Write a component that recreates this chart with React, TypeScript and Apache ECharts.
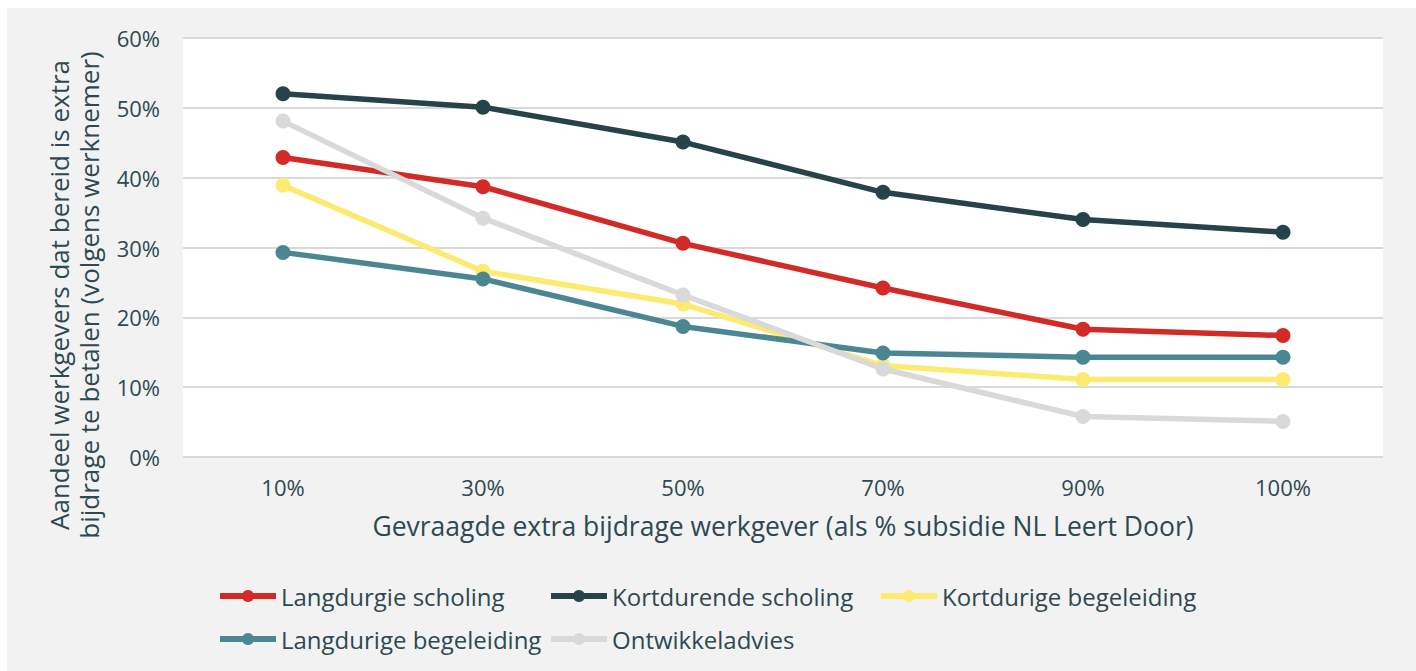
import React, { useEffect, useRef } from "react";
import * as echarts from "echarts";

const categories = ["10%", "30%", "50%", "70%", "90%", "100%"];
const langdurigeScholing = [42.9, 38.7, 30.6, 24.2, 18.3, 17.4];
const kortdurendeScholing = [52.0, 50.1, 45.1, 37.9, 34.0, 32.2];
const kortdurigeBegeleiding = [38.9, 26.6, 21.9, 13.1, 11.1, 11.1];
const langdurigeBegeleiding = [29.3, 25.5, 18.7, 14.9, 14.3, 14.3];
const ontwikkeladvies = [48.1, 34.2, 23.2, 12.6, 5.8, 5.1];
const yTicks = [0, 10, 20, 30, 40, 50, 60];

const seriesDefs = [
  { name: "Langdurgie scholing", data: langdurigeScholing, color: "#d22b27" },
  { name: "Kortdurende scholing", data: kortdurendeScholing, color: "#264349" },
  { name: "Kortdurige begeleiding", data: kortdurigeBegeleiding, color: "#fdea70" },
  { name: "Langdurige begeleiding", data: langdurigeBegeleiding, color: "#4a8793" },
  { name: "Ontwikkeladvies", data: ontwikkeladvies, color: "#d9d9d9" },
];

const TEXT = "#2d4951";
const FONT = "Open Sans";

export default function App() {
  const ref = useRef<HTMLDivElement>(null);
  useEffect(() => {
    if (!ref.current) return;
    const chart = echarts.init(ref.current, null, { renderer: "svg" });
    const legendPos = [
      [210, 576],
      [541, 576],
      [871, 576],
      [210, 619],
      [541, 619],
    ];
    chart.setOption({
      animation: false,
      backgroundColor: "#f2f2f2",
      textStyle: { fontFamily: FONT },
      grid: {
        left: 176,
        top: 30,
        width: 1200,
        height: 419,
        show: true,
        backgroundColor: "#ffffff",
        borderWidth: 0,
      },
      legend: seriesDefs.map((s, i) => ({
        data: [s.name],
        left: legendPos[i][0],
        top: legendPos[i][1],
        itemWidth: 56,
        itemHeight: 15,
        padding: 0,
        lineStyle: { width: 6 },
        textStyle: { color: TEXT, fontSize: 24, fontFamily: FONT },
      })),
      xAxis: {
        type: "category",
        data: categories,
        boundaryGap: true,
        axisLine: { show: false },
        axisTick: { show: false },
        axisLabel: { color: TEXT, fontSize: 22, margin: 19, fontFamily: FONT },
        name: "Gevraagde extra bijdrage werkgever (als % subsidie NL Leert Door)",
        nameLocation: "middle",
        nameGap: 55,
        nameTextStyle: { color: TEXT, fontSize: 26.5, fontFamily: FONT },
      },
      yAxis: {
        type: "value",
        min: yTicks[0],
        max: yTicks[yTicks.length - 1],
        interval: 10,
        axisLine: { show: false },
        axisTick: { show: false },
        axisLabel: {
          color: TEXT,
          fontSize: 22,
          margin: 23,
          fontFamily: FONT,
          formatter: (v: number) => v + "%",
        },
        splitLine: { lineStyle: { color: "#d9d9d9", width: 2 } },
      },
      graphic: [
        {
          type: "text",
          x: 67,
          y: 287,
          rotation: Math.PI / 2,
          style: {
            text: "Aandeel werkgevers dat bereid is extra\nbijdrage te betalen (volgens werknemer)",
            fill: TEXT,
            fontSize: 26,
            fontFamily: FONT,
            align: "center",
            verticalAlign: "middle",
            lineHeight: 30,
          },
        },
      ],
      series: seriesDefs.map((s) => ({
        name: s.name,
        type: "line",
        data: s.data,
        symbol: "circle",
        symbolSize: 15,
        color: s.color,
        lineStyle: { width: 5.5, color: s.color },
        itemStyle: { color: s.color },
      })),
    });
    return () => chart.dispose();
  }, []);
  return (
    <div
      ref={ref}
      style={{ position: "absolute", left: 7, top: 8, width: 1409, height: 663 }}
    />
  );
}
